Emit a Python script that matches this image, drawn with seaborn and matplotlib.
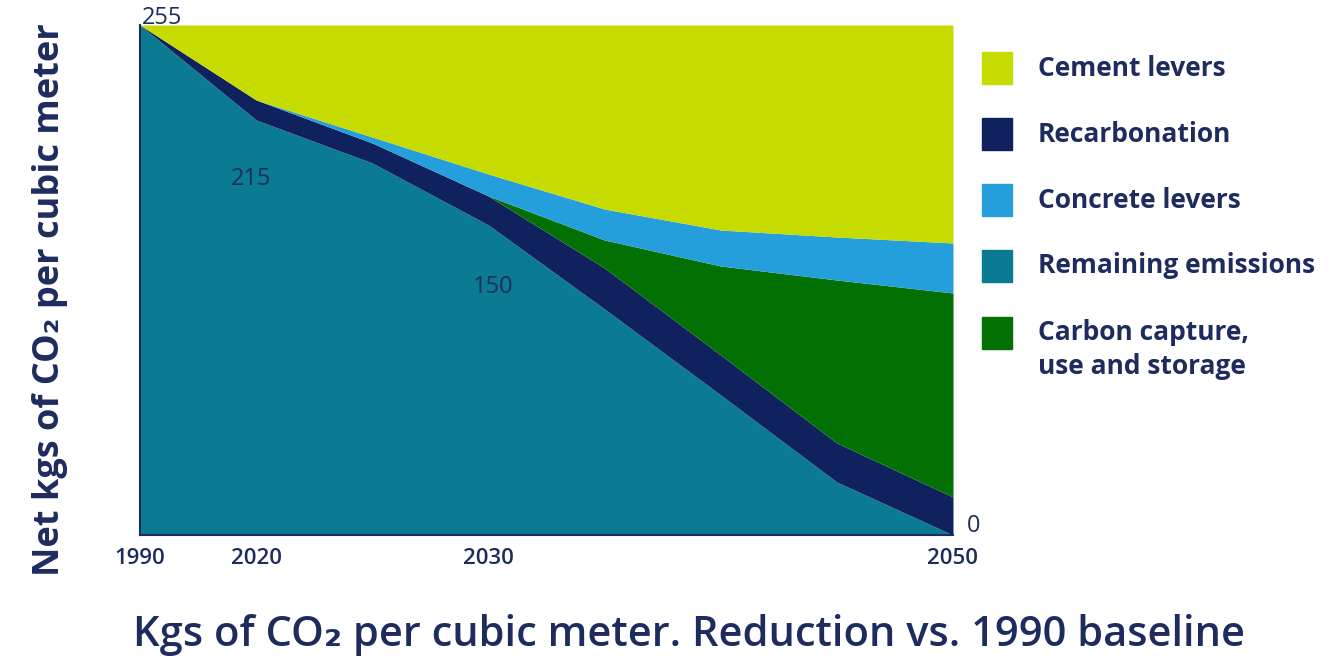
import numpy as np
import matplotlib
matplotlib.use("Agg")
import matplotlib.pyplot as plt
import seaborn as sns

# Pathway years and net emissions components (kg CO2 per m3)
years = [1990, 2020, 2025, 2030, 2035, 2040, 2045, 2050]
remaining_emissions = [255, 207.5, 186, 155, 113, 70, 26.5, 0]
recarbonation = [0, 10, 10, 14.5, 20.5, 20, 19.5, 19]
ccus = [0, 0, 0, 0, 14, 44.5, 81.5, 102]
concrete_levers = [0, 0, 3, 11, 15.5, 18, 21.5, 25]
cement_levers = [0, 37.5, 56, 74.5, 92, 102.5, 106, 109]

tick_years = [1990, 2020, 2030, 2050]
value_labels = [(1990, "255"), (2020, "215"), (2030, "150"), (2050, "0")]

legend_names = ["Cement levers", "Recarbonation", "Concrete levers",
                "Remaining emissions", "Carbon capture,\nuse and storage"]

colors = {
    "Cement levers": "#c6dc00",
    "Recarbonation": "#10225e",
    "Concrete levers": "#259fdc",
    "Remaining emissions": "#0a7b93",
    "Carbon capture,\nuse and storage": "#037003",
}
text_color = "#1d2b5e"

sns.set_theme(style="white")
plt.rcParams["font.family"] = ["Open Sans", "DejaVu Sans"]


def xpos(year):
    # The 1990 baseline sits on a compressed stretch left of 2020
    year = np.asarray(year, dtype=float)
    return np.where(year >= 2020, year, 2020 - (2020 - year) / 6.0)


fig = plt.figure(figsize=(13.41, 6.61), dpi=100)
ax = fig.add_axes([140 / 1341, 1 - 535 / 661, (953 - 140) / 1341, (535 - 25) / 661])

x = xpos(years)
layers = [remaining_emissions, recarbonation, ccus, concrete_levers, cement_levers]
order = ["Remaining emissions", "Recarbonation", "Carbon capture,\nuse and storage",
         "Concrete levers", "Cement levers"]
ax.stackplot(x, *layers, colors=[colors[n] for n in order], linewidth=0)

ax.set_xlim(x[0], x[-1])
ax.set_ylim(0, 255)
ax.set_yticks([])
ax.set_xticks(xpos(tick_years))
ax.set_xticklabels([str(t) for t in tick_years], fontsize=16, fontweight="semibold",
                   color=text_color)
ax.tick_params(axis="x", length=0, pad=9)
sns.despine(ax=ax, top=True, right=True)
for side in ("left", "bottom"):
    ax.spines[side].set_color(text_color)
    ax.spines[side].set_linewidth(1.5)

# Value annotations along the pathway
label_offsets = {
    "255": dict(dx=0.1, y=258.5, ha="left", va="center"),
    "215": dict(dx=-0.2, y=178, ha="center", va="center"),
    "150": dict(dx=0.2, y=124, ha="center", va="center"),
    "0": dict(dx=0.6, y=4.5, ha="left", va="center"),
}
for yr, txt in value_labels:
    o = label_offsets[txt]
    ax.text(float(xpos(yr)) + o["dx"], o["y"], txt, ha=o["ha"], va=o["va"],
            fontsize=17, fontweight="medium", color=text_color, clip_on=False)

# Legend: coloured squares with labels
row_y = [68, 134, 200, 266, 333]
for name, yy in zip(legend_names, row_y):
    fig.patches.append(plt.Rectangle((982 / 1341, 1 - (yy + 16) / 661), 30 / 1341, 32 / 661,
                                     transform=fig.transFigure, color=colors[name]))
    for i, line in enumerate(name.split("\n")):
        fig.text(1038 / 1341, 1 - (yy + 33 * i) / 661, line, ha="left", va="center",
                 fontsize=19, fontweight="bold", color=text_color)

fig.text(50 / 1341, 1 - 300 / 661, "Net kgs of CO\u2082 per cubic meter", rotation=90,
         ha="center", va="center", fontsize=26, fontweight="bold", color=text_color)
fig.text(689 / 1341, 1 - 635 / 661, "Kgs of CO\u2082 per cubic meter. Reduction vs. 1990 baseline",
         ha="center", va="center", fontsize=30, fontweight="semibold", color=text_color)

fig.savefig("out.png", dpi=100, facecolor="white")
